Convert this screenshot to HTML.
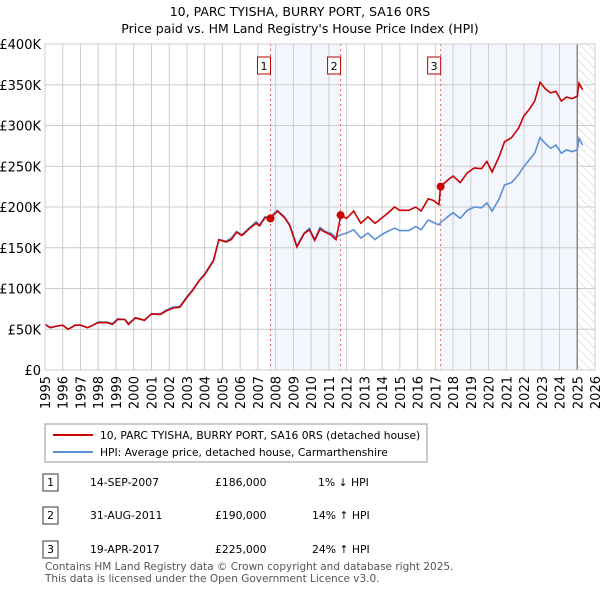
<!DOCTYPE html>
<html><head><meta charset="utf-8"><style>
body{margin:0;background:#fff;font-family:"Liberation Sans","DejaVu Sans",sans-serif;}
svg text{font-family:"DejaVu Sans","Liberation Sans",sans-serif;}
</style></head><body>
<svg id="c" width="600" height="590" xmlns="http://www.w3.org/2000/svg">
<defs><pattern id="hatch" width="6" height="6" patternUnits="userSpaceOnUse" patternTransform="rotate(-45)"><line x1="0" y1="0" x2="0" y2="6" stroke="#ccc" stroke-width="1"/></pattern></defs>
<text x="300" y="16" text-anchor="middle" font-size="12.5">10, PARC TYISHA, BURRY PORT, SA16 0RS</text>
<text x="300" y="33" text-anchor="middle" font-size="12.5">Price paid vs. HM Land Registry's House Price Index (HPI)</text>
<g id="plot"></g>
<g>
<rect x="45" y="424" width="382" height="38" fill="#fff" stroke="#999"/>
<line x1="53" y1="435" x2="93" y2="435" stroke="#cc0000" stroke-width="2"/>
<text x="100" y="439" font-size="10.7">10, PARC TYISHA, BURRY PORT, SA16 0RS (detached house)</text>
<line x1="53" y1="452" x2="93" y2="452" stroke="#5b8fd6" stroke-width="2"/>
<text x="100" y="456" font-size="10.7">HPI: Average price, detached house, Carmarthenshire</text>
</g>
<g font-size="10.8">
<rect x="43" y="474" width="15" height="17" fill="#fff" stroke="#333"/><text x="50.5" y="486" text-anchor="middle">1</text>
<text x="90" y="486">14-SEP-2007</text><text x="215" y="486">£186,000</text><text x="318" y="486">1% ↓ HPI</text>
<rect x="43" y="507" width="15" height="17" fill="#fff" stroke="#333"/><text x="50.5" y="519" text-anchor="middle">2</text>
<text x="90" y="519">31-AUG-2011</text><text x="215" y="519">£190,000</text><text x="312" y="519">14% ↑ HPI</text>
<rect x="43" y="541" width="15" height="17" fill="#fff" stroke="#333"/><text x="50.5" y="553" text-anchor="middle">3</text>
<text x="90" y="553">19-APR-2017</text><text x="215" y="553">£225,000</text><text x="312" y="553">24% ↑ HPI</text>
</g>
<text x="45" y="570" font-size="10.5" fill="#555">Contains HM Land Registry data © Crown copyright and database right 2025.</text>
<text x="45" y="582" font-size="10.5" fill="#555">This data is licensed under the Open Government Licence v3.0.</text>
</svg>
<script>
const dates=[1995.0,1995.3,1995.7,1996.0,1996.3,1996.7,1997.0,1997.4,1997.7,1998.0,1998.5,1998.8,1999.1,1999.5,1999.7,2000.1,2000.6,2001.0,2001.5,2001.8,2002.2,2002.6,2003.0,2003.3,2003.7,2004.0,2004.5,2004.8,2005.2,2005.5,2005.8,2006.1,2006.5,2006.9,2007.1,2007.4,2007.7,2008.1,2008.5,2008.8,2009.2,2009.6,2009.9,2010.2,2010.5,2010.8,2011.1,2011.4,2011.67,2012.0,2012.4,2012.8,2013.2,2013.6,2013.9,2014.3,2014.7,2015.0,2015.5,2015.9,2016.2,2016.6,2016.9,2017.2,2017.3,2017.7,2018.0,2018.4,2018.8,2019.2,2019.6,2019.9,2020.2,2020.6,2020.9,2021.3,2021.7,2022.0,2022.3,2022.6,2022.9,2023.2,2023.5,2023.8,2024.1,2024.4,2024.7,2025.0,2025.1,2025.3];
const hpiValues=[56,52,54,55,50,55,55,52,55,59,59,57,63,62,57,64,61,69,69,73,77,78,90,98,110,118,135,160,158,162,170,166,174,182,178,188,188,196,188,178,152,168,174,160,175,170,168,163,166,168,172,162,168,160,165,170,174,171,171,176,172,184,181,178,181,188,193,186,196,200,199,205,195,210,227,230,240,250,258,266,285,278,272,276,266,270,268,270,284,276];
const priceValues=[56,52,54,55,50,55,55,52,55,58,58,56,62,62,56,64,61,69,68,72,76,77,89,97,110,117,134,160,157,160,169,165,173,180,177,187,186,195,187,177,151,167,172,159,173,169,166,160,190,186,195,180,188,180,185,192,200,196,196,200,195,210,208,203,225,233,238,230,242,248,247,256,243,262,280,285,297,312,320,330,353,345,340,342,330,335,333,336,352,344];
const saleDates=[2007.71,2011.66,2017.30];
const salePrices=[186,190,225];
const saleLabels=["1","2","3"];
const yTicks=[0,50,100,150,200,250,300,350,400];
const yTickLabels=["£0","£50K","£100K","£150K","£200K","£250K","£300K","£350K","£400K"];
const xYears=[];for(let y=1995;y<=2026;y++)xYears.push(y);
const X0=45,X1=595,Y0=370,Y1=44;
const xs=v=>X0+(v-1995)/31*(X1-X0);
const ys=v=>Y0-v/400*(Y0-Y1);
const NS="http://www.w3.org/2000/svg";
const g=document.getElementById('plot');
function mk(t,a){const e=document.createElementNS(NS,t);for(const k in a)e.setAttribute(k,a[k]);g.appendChild(e);return e;}
let r=mk('rect',{x:X0,y:Y1,width:X1-X0,height:Y0-Y1,fill:'#fff'});

r=mk('rect',{x:xs(saleDates[0]),y:Y1,width:xs(saleDates[1])-xs(saleDates[0]),height:Y0-Y1,fill:'#eef3fc',opacity:0.7});

r=mk('rect',{x:xs(saleDates[2]),y:Y1,width:xs(2025.0)-xs(saleDates[2]),height:Y0-Y1,fill:'#eef3fc',opacity:0.7});

r=mk('rect',{x:xs(2025.0),y:Y1,width:X1-xs(2025.0),height:Y0-Y1,fill:'url(#hatch)'});

yTicks.forEach((v,i)=>{
 let l=mk('line',{x1:X0,x2:X1,y1:ys(v),y2:ys(v),stroke:'#ccc'});
 
 let t=mk('text',{x:X0-4,y:ys(v)+5,'text-anchor':'end','font-size':'13'});t.textContent=yTickLabels[i];
 
});
xYears.forEach(y=>{
 let l=mk('line',{x1:xs(y),x2:xs(y),y1:Y1,y2:Y0,stroke:'#ccc'});
 
 let t=mk('text',{transform:`translate(${xs(y)+5},${Y0+6}) rotate(-90)`,'text-anchor':'end','font-size':'13'});t.textContent=y;
 
});
let el=mk('line',{x1:xs(2025.0),x2:xs(2025.0),y1:Y1,y2:Y0,stroke:'#888','stroke-width':1.5});

saleDates.forEach((d,i)=>{
 let l=mk('line',{x1:xs(d),x2:xs(d),y1:Y1,y2:Y0,stroke:'#e06666','stroke-dasharray':'2,3'});
 
 let b=mk('rect',{x:xs(d)-13,y:57,width:13,height:17,fill:'#fff',stroke:'#b00'});
 
 let t=mk('text',{x:xs(d)-6.5,y:70,'text-anchor':'middle','font-size':'11'});t.textContent=saleLabels[i];
 
});
const path=a=>dates.map((d,i)=>(i?'L':'M')+xs(d).toFixed(1)+','+ys(a[i]).toFixed(1)).join('');
el=mk('path',{d:path(hpiValues),fill:'none',stroke:'#5b8fd6','stroke-width':1.6});

el=mk('path',{d:path(priceValues),fill:'none',stroke:'#cc0000','stroke-width':1.6});

saleDates.forEach((d,i)=>{
 let c=mk('circle',{cx:xs(d),cy:ys(salePrices[i]),r:4,fill:'#cc0000'});
 
});
el=mk('rect',{x:X0,y:Y1,width:X1-X0,height:Y0-Y1,fill:'none',stroke:'#ccc'});

</script>
</body></html>
